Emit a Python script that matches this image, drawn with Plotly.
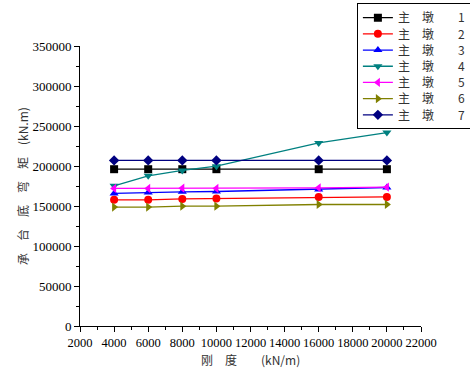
import plotly.graph_objects as go

x_vals = [4000, 6000, 8000, 10000, 16000, 20000]
s1 = [196000, 196000, 196000, 196000, 196000, 196000]
s2 = [157700, 157700, 158900, 159300, 161400, 161400]
s3 = [165700, 166900, 167700, 168100, 170600, 173100]
s4 = [175200, 187700, 194400, 199800, 228900, 241800]
s5 = [172000, 172000, 172300, 172000, 172700, 173500]
s6 = [148600, 148600, 149800, 149800, 151900, 151900]
s7 = [207000, 207000, 207000, 207000, 207000, 207000]
names = ["主　墩　　1", "主　墩　　2", "主　墩　　3", "主　墩　　4",
         "主　墩　　5", "主　墩　　6", "主　墩　　7"]
series = [s1, s2, s3, s4, s5, s6, s7]
colors = ["#000000", "#ff0000", "#0000ff", "#008080", "#ff00ff", "#808000", "#000080"]
symbols = ["square", "circle", "triangle-up", "triangle-down", "triangle-left",
           "triangle-right", "diamond"]
x_title = "刚　度　　(kN/m)"
y_title = "承　台　底　弯　矩　(kN.m)"

fig = go.Figure()
for name, ys, c, sym in zip(names, series, colors, symbols):
    fig.add_trace(go.Scatter(x=x_vals, y=ys, mode="lines+markers", name=name,
                             line=dict(color=c, width=1.3),
                             marker=dict(symbol=sym, size=8, color=c)))

serif = "Liberation Serif"
cjk = "Noto Sans CJK SC"
fig.update_layout(
    width=470, height=372,
    margin=dict(l=80, r=49, t=46, b=46, autoexpand=False),
    plot_bgcolor="white", paper_bgcolor="white",
    font=dict(family=serif, size=13, color="black"),
    showlegend=True,
    legend=dict(x=0.812, y=1.153, xanchor="left", yanchor="top",
                bordercolor="black", borderwidth=1, bgcolor="white",
                font=dict(family=cjk, size=12, color="#333"),
                tracegroupgap=0, itemwidth=30),
    xaxis=dict(range=[2000, 22000], dtick=2000, tick0=2000, showline=True,
               linecolor="black", linewidth=1, ticks="outside", ticklen=5,
               tickcolor="black", showgrid=False, zeroline=False, tickformat="d",
               tickangle=0, automargin=False, tickfont=dict(family=serif, size=12.5),
               minor=dict(ticks="outside", dtick=1000, ticklen=3, tickcolor="black")),
    yaxis=dict(range=[0, 350000], dtick=50000, showline=True, linecolor="black",
               linewidth=1, ticks="outside", ticklen=5, tickcolor="black",
               showgrid=False, zeroline=False, tickformat="d",
               automargin=False, tickfont=dict(family=serif, size=13),
               minor=dict(ticks="outside", dtick=25000, ticklen=3, tickcolor="black")),
    annotations=[
        dict(text=x_title, xref="paper", yref="paper", x=0.5, y=-0.118,
             xanchor="center", yanchor="middle", showarrow=False,
             font=dict(family=cjk, size=12, color="#333")),
        dict(text=y_title, xref="paper", yref="paper", x=-0.17, y=0.5,
             xanchor="center", yanchor="middle", showarrow=False, textangle=-90,
             font=dict(family=cjk, size=12, color="#333")),
    ],
)

post = """
document.body.style.margin = '0';
try {
  var gd = document.getElementById('{plot_id}');
  var tr = gd.querySelectorAll('.legend .traces');
  var step = 16.2;
  if (tr.length) {
    var m = /translate\\(([^,]+),\\s*([^)]+)\\)/.exec(tr[0].getAttribute('transform'));
    var x0 = parseFloat(m[1]), y0 = parseFloat(m[2]);
    tr.forEach(function(t, i){ t.setAttribute('transform', 'translate(' + x0 + ',' + (y0 - 1 + i*step) + ')'); });
    var bg = gd.querySelector('.legend .bg');
    var h = parseFloat(bg.getAttribute('height'));
    bg.setAttribute('height', h - (19 - step) * tr.length);
  }
} catch (e) {}
"""
fig.write_html("out.html", post_script=post, config={"displayModeBar": False})
